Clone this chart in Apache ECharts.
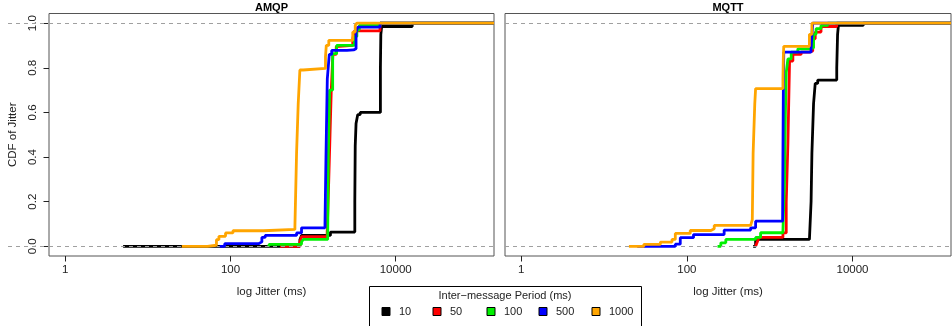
<!DOCTYPE html>
<html>
<head>
<meta charset="utf-8">
<script src="https://cdn.jsdelivr.net/npm/echarts@6/dist/echarts.min.js"></script>
<style>
html, body { margin: 0; padding: 0; background: #fff; }
#chart { width: 952px; height: 326px; }
</style>
</head>
<body>
<div id="chart"></div>
<script>
// categories
const panels = ["AMQP", "MQTT"];
const periods = ["10", "50", "100", "500", "1000"];
const colors = ["#000000", "#ff0000", "#00f000", "#0000ff", "#ffa500"];
const xTicks = [0, 2, 4];                      // log10 of 1, 100, 10000
const yTicks = [0, 0.2, 0.4, 0.6, 0.8, 1.0];
const refLines = [0, 1];

// CDF steps: x = log10(jitter in ms), y = CDF after the step
// AMQP
const amqp10X   = [0.70, 2.84, 2.86, 3.21, 3.505, 3.51, 3.52, 3.54, 3.57, 3.815, 3.82, 3.83, 4.20];
const amqp10Y   = [0.00, 0.03, 0.049, 0.064, 0.20, 0.45, 0.55, 0.59, 0.60, 0.80, 0.95, 0.985, 1.00];
const amqp50X   = [2.60, 2.84, 2.86, 3.17, 3.19, 3.205, 3.22, 3.24, 3.28, 3.30, 3.48, 3.50, 3.81];
const amqp50Y   = [0.00, 0.02, 0.043, 0.06, 0.30, 0.50, 0.70, 0.86, 0.895, 0.90, 0.93, 0.965, 1.00];
const amqp100X  = [2.46, 2.47, 2.86, 2.88, 3.177, 3.184, 3.20, 3.237, 3.285, 3.50, 3.53, 3.56, 3.81];
const amqp100Y  = [0.00, 0.009, 0.02, 0.031, 0.05, 0.40, 0.70, 0.863, 0.90, 0.94, 0.97, 0.99, 1.00];
const amqp500X  = [1.87, 1.93, 2.34, 2.38, 2.42, 2.80, 2.86, 3.144, 3.156, 3.172, 3.196, 3.225, 3.41, 3.49, 3.52, 3.54, 3.81];
const amqp500Y  = [0.00, 0.012, 0.02, 0.04, 0.049, 0.06, 0.083, 0.10, 0.40, 0.75, 0.86, 0.878, 0.88, 0.885, 0.96, 0.982, 1.00];
const amqp1000X = [1.41, 1.72, 1.83, 1.86, 1.94, 2.03, 2.40, 2.78, 2.80, 2.82, 2.84, 2.88, 3.15, 3.16, 3.19, 3.48, 3.51, 3.53];
const amqp1000Y = [0.00, 0.005, 0.03, 0.045, 0.06, 0.07, 0.076, 0.09, 0.418, 0.64, 0.79, 0.797, 0.85, 0.90, 0.923, 0.96, 0.99, 1.00];
// MQTT
const mqtt10X   = [2.80, 2.83, 3.48, 3.50, 3.51, 3.53, 3.55, 3.58, 3.81, 3.82, 3.83, 4.13];
const mqtt10Y   = [0.00, 0.031, 0.035, 0.20, 0.418, 0.64, 0.73, 0.745, 0.80, 0.95, 0.99, 1.00];
const mqtt50X   = [2.83, 2.85, 2.87, 3.16, 3.20, 3.22, 3.24, 3.28, 3.38, 3.48, 3.52, 3.55, 3.62, 3.81];
const mqtt50Y   = [0.00, 0.02, 0.04, 0.06, 0.20, 0.46, 0.83, 0.86, 0.87, 0.875, 0.93, 0.96, 0.985, 1.00];
const mqtt100X  = [2.37, 2.41, 2.47, 2.83, 2.89, 3.16, 3.18, 3.19, 3.20, 3.22, 3.26, 3.34, 3.50, 3.53, 3.56, 3.62, 3.70];
const mqtt100Y  = [0.00, 0.016, 0.031, 0.04, 0.061, 0.07, 0.30, 0.60, 0.78, 0.84, 0.87, 0.885, 0.89, 0.95, 0.975, 0.99, 1.00];
const mqtt500X  = [1.40, 1.86, 1.92, 2.08, 2.45, 2.77, 2.83, 3.156, 3.16, 3.165, 3.17, 3.50, 3.52];
const mqtt500Y  = [0.00, 0.01, 0.039, 0.053, 0.073, 0.083, 0.113, 0.12, 0.40, 0.70, 0.87, 0.89, 1.00];
const mqtt1000X = [1.30, 1.48, 1.68, 1.82, 1.86, 2.04, 2.29, 2.33, 2.77, 2.79, 2.80, 2.82, 2.83, 3.16, 3.165, 3.17, 3.48, 3.51];
const mqtt1000Y = [0.00, 0.009, 0.019, 0.031, 0.058, 0.071, 0.079, 0.094, 0.10, 0.12, 0.418, 0.64, 0.707, 0.75, 0.85, 0.896, 0.95, 1.00];

const panelData = [
    [[amqp10X, amqp10Y], [amqp50X, amqp50Y], [amqp100X, amqp100Y], [amqp500X, amqp500Y], [amqp1000X, amqp1000Y]],
    [[mqtt10X, mqtt10Y], [mqtt50X, mqtt50Y], [mqtt100X, mqtt100Y], [mqtt500X, mqtt500Y], [mqtt1000X, mqtt1000Y]]
];

const X_MIN = -0.197, X_MAX = 5.19;
const Y_MIN = -0.0432, Y_MAX = 1.0432;
const font = "Liberation Sans";
const grids = [
    { left: 49, top: 13.5, width: 445, height: 242.5 },
    { left: 505, top: 13.5, width: 446, height: 242.5 }
];
const legendLefts = [381.5, 432.5, 486.5, 538.5, 591.5];
const dashStyle = { color: "#a0a0a0", type: [4, 4], width: 1.2 };

let chart = echarts.init(document.getElementById("chart"));

let series = [];
panels.forEach((p, pi) => {
    panelData[pi].forEach((d, si) => {
        let pts = d[0].map((x, k) => [x, d[1][k]]);
        pts.push([X_MAX, 1]);
        series.push({
            name: periods[si],
            type: "line",
            step: "end",
            xAxisIndex: pi,
            yAxisIndex: pi,
            data: pts,
            showSymbol: false,
            lineStyle: { color: colors[si], width: 2.8 },
            itemStyle: { color: colors[si] },
            z: 2 + si
        });
    });
    // dashed lines at 0 and 1
    series.push({
        type: "line",
        xAxisIndex: pi,
        yAxisIndex: pi,
        data: [],
        z: 10,
        markLine: {
            silent: true,
            symbol: ["none", "none"],
            label: { show: false },
            lineStyle: dashStyle,
            data: refLines.map(v => ({ yAxis: v }))
        }
    });
});

let option = {
    animation: false,
    textStyle: { fontFamily: font },
    title: panels.map((p, pi) => ({
        text: p,
        left: grids[pi].left + grids[pi].width / 2,
        textAlign: "center",
        top: 2,
        padding: 0,
        textStyle: { fontSize: 11, fontWeight: "bold", color: "#000", fontFamily: font }
    })),
    grid: grids.map(g => Object.assign({ show: true, borderColor: "#555", borderWidth: 1, backgroundColor: "transparent" }, g)),
    xAxis: panels.map((p, pi) => ({
        type: "value",
        gridIndex: pi,
        min: X_MIN,
        max: X_MAX,
        splitLine: { show: false },
        axisLine: { show: false, onZero: false },
        axisTick: { show: true, customValues: xTicks, length: 5.5, lineStyle: { color: "#222" } },
        axisLabel: {
            customValues: xTicks,
            formatter: v => String(Math.round(Math.pow(10, v))),
            fontSize: 11.5, color: "#222", margin: 8
        },
        name: "log Jitter (ms)",
        nameLocation: "middle",
        nameGap: 30,
        nameTextStyle: { fontSize: 11.5, color: "#222" }
    })),
    yAxis: panels.map((p, pi) => ({
        type: "value",
        gridIndex: pi,
        min: Y_MIN,
        max: Y_MAX,
        splitLine: { show: false },
        axisLine: { show: false, onZero: false },
        axisTick: { show: pi === 0, customValues: yTicks, length: 5.5, lineStyle: { color: "#222" } },
        axisLabel: {
            show: pi === 0,
            customValues: yTicks,
            rotate: 90,
            formatter: v => v.toFixed(1),
            fontSize: 11.5, color: "#222", margin: 10
        },
        name: pi === 0 ? "CDF of Jitter" : "",
        nameLocation: "middle",
        nameRotate: 90,
        nameGap: 30,
        nameTextStyle: { fontSize: 11.5, color: "#222" }
    })),
    legend: periods.map((p, i) => ({
        data: [p],
        left: legendLefts[i],
        top: 306,
        padding: 0,
        itemWidth: 8,
        itemHeight: 8,
        icon: "rect",
        itemStyle: { borderColor: "#000", borderWidth: 1 },
        textStyle: { fontSize: 11, color: "#222", padding: [0, 0, 0, 4] }
    })),
    graphic: [
        {
            type: "rect",
            left: 369, top: 286,
            shape: { width: 272, height: 50 },
            style: { fill: "#fff", stroke: "#000", lineWidth: 1 },
            z: -1
        },
        {
            type: "text",
            x: 505, y: 296,
            style: {
                text: "Inter\u2212message Period (ms)",
                fill: "#222",
                font: "11px 'Liberation Sans'",
                align: "center",
                verticalAlign: "middle"
            }
        }
    ],
    series: series
};
chart.setOption(option);

// the reference lines of the left panel run on past its left edge
let extra = refLines.map(v => {
    let y = Math.round(chart.convertToPixel({ yAxisIndex: 0 }, v)) + 0.5;
    return {
        type: "line",
        shape: { x1: 8, y1: y, x2: grids[0].left, y2: y },
        style: { stroke: dashStyle.color, lineDash: dashStyle.type, lineWidth: dashStyle.width },
        z: 10
    };
});
chart.setOption({ graphic: option.graphic.concat(extra) });
</script>
</body>
</html>
